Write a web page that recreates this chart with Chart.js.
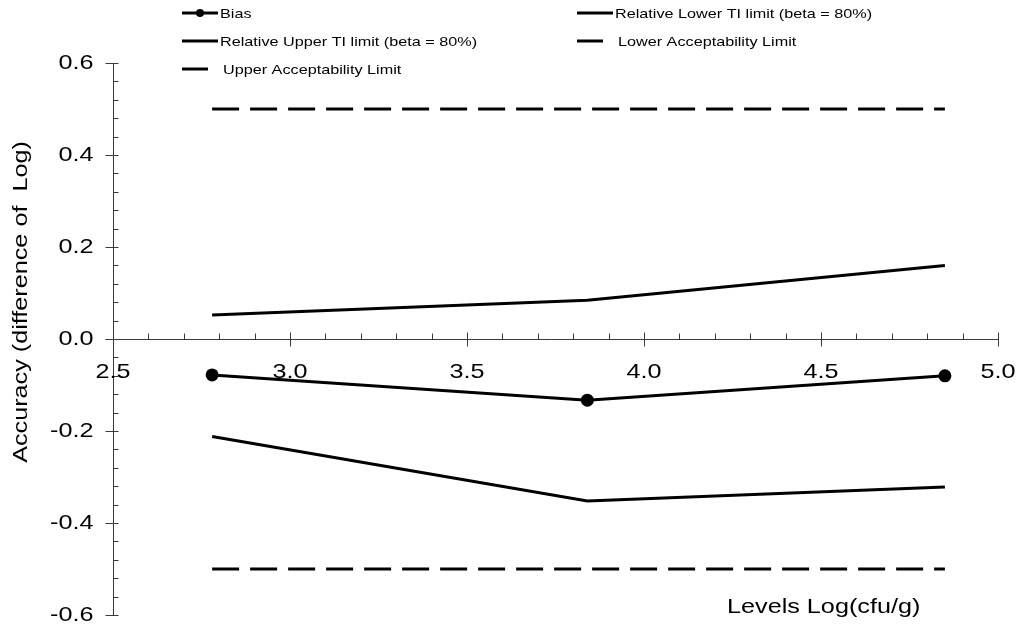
<!DOCTYPE html>
<html>
<head>
<meta charset="utf-8">
<script src="https://cdn.jsdelivr.net/npm/chart.js@4/dist/chart.umd.min.js"></script>
<style>
  html, body { margin: 0; padding: 0; background: #ffffff; }
  #wrap { width: 1021px; height: 633px; position: relative; }
</style>
</head>
<body>
<div id="wrap"><canvas id="c" width="1021" height="633"></canvas></div>
<script>
// Concentration levels (log cfu/g) and the accuracy profile series
const levels = [2.78, 3.84, 4.85];
const bias = [-0.078, -0.133, -0.080];
const lowerTI = [-0.212, -0.352, -0.322];
const upperTI = [0.052, 0.084, 0.160];
const lowerAccept = [-0.5, -0.5, -0.5];
const upperAccept = [0.5, 0.5, 0.5];

// Axis tick labels
const xTicks = ['2.5', '3.0', '3.5', '4.0', '4.5', '5.0'];
const yTicks = ['0.6', '0.4', '0.2', '0.0', '-0.2', '-0.4', '-0.6'];

const seriesNames = [
  'Bias',
  'Relative Lower TI limit (beta = 80%)',
  'Relative Upper TI limit (beta = 80%)',
  'Lower Acceptability Limit',
  'Upper Acceptability Limit'
];

const FONT = '"Liberation Sans", Arial, sans-serif';
const WIDE = 1.2; // horizontal stretch of the wide text face

function pts(ys) { return levels.map((x, i) => ({ x: x, y: ys[i] })); }

// Text with a slightly widened face, anchored at (x, y)
function wideText(ctx, text, x, y, align, rot) {
  ctx.save();
  ctx.translate(x, y);
  if (rot) ctx.rotate(rot);
  ctx.scale(WIDE, 1);
  ctx.textAlign = align;
  ctx.fillText(text, 0, 0);
  ctx.restore();
}

const solid = { borderColor: '#000', backgroundColor: '#000', borderWidth: 3, showLine: true, pointRadius: 0, pointHoverRadius: 0 };
const dashed = Object.assign({}, solid, { borderDash: [27, 11] });

const datasets = [
  Object.assign({}, solid, { label: seriesNames[0], data: pts(bias), pointRadius: 5, legendKind: 'marker' }),
  Object.assign({}, solid, { label: seriesNames[1], data: pts(lowerTI), legendKind: 'line' }),
  Object.assign({}, solid, { label: seriesNames[2], data: pts(upperTI), legendKind: 'line' }),
  Object.assign({}, dashed, { label: seriesNames[3], data: pts(lowerAccept), legendKind: 'dash' }),
  Object.assign({}, dashed, { label: seriesNames[4], data: pts(upperAccept), legendKind: 'dash' })
];

// Axes crossing at (2.5, 0) with major and minor ticks, drawn from the chart's scales
const crossAxes = {
  id: 'crossAxes',
  afterDraw(chart) {
    const ctx = chart.ctx;
    const xs = chart.scales.x, ys = chart.scales.y;
    const x0 = Math.round(xs.getPixelForValue(2.5)) + 0.5;
    const y0 = Math.round(ys.getPixelForValue(0)) + 0.5;
    ctx.save();
    ctx.strokeStyle = '#3a3a3a';
    ctx.lineWidth = 1;
    ctx.beginPath();
    // vertical axis
    ctx.moveTo(x0, ys.getPixelForValue(0.6));
    ctx.lineTo(x0, ys.getPixelForValue(-0.6));
    // horizontal axis
    ctx.moveTo(x0 - 8, y0);
    ctx.lineTo(xs.getPixelForValue(5.0), y0);
    // y ticks: majors every 0.2, minors every 0.04
    for (let k = -15; k <= 15; k++) {
      const v = k * 0.04;
      const py = Math.round(ys.getPixelForValue(v)) + 0.5;
      if (k % 5 === 0) { ctx.moveTo(x0 - 8, py); ctx.lineTo(x0 + 5, py); }
      else { ctx.moveTo(x0, py); ctx.lineTo(x0 + 5, py); }
    }
    // x ticks: majors every 0.5, minors every 0.1
    for (let k = 25; k <= 50; k++) {
      const v = k / 10;
      const px = Math.round(xs.getPixelForValue(v)) + 0.5;
      if (k % 5 === 0) { ctx.moveTo(px, y0 - 7); ctx.lineTo(px, y0 + 7); }
      else { ctx.moveTo(px, y0 - 6); ctx.lineTo(px, y0); }
    }
    ctx.stroke();

    // tick labels
    ctx.fillStyle = '#000';
    ctx.font = '21px ' + FONT;
    ctx.textBaseline = 'middle';
    yTicks.forEach(t => {
      wideText(ctx, t, x0 - 20, ys.getPixelForValue(parseFloat(t)), 'right');
    });
    xTicks.forEach(t => {
      wideText(ctx, t, xs.getPixelForValue(parseFloat(t)), y0 + 33, 'center');
    });

    // axis titles
    wideText(ctx, 'Levels Log(cfu/g)', 727, 607, 'left');
    wideText(ctx, 'Accuracy (difference of  Log)', 21, 302, 'center', -Math.PI / 2);
    ctx.restore();
  }
};

// Two-column legend at the top of the figure
const topLegend = {
  id: 'topLegend',
  afterDraw(chart) {
    const ctx = chart.ctx;
    const cols = [182, 577];
    const rows = [13, 41, 69];
    ctx.save();
    ctx.fillStyle = '#000';
    ctx.strokeStyle = '#000';
    ctx.font = '13.5px ' + FONT;
    ctx.textBaseline = 'middle';
    chart.data.datasets.forEach((ds, i) => {
      const x = cols[i % 2], y = rows[Math.floor(i / 2)];
      ctx.lineWidth = 3;
      ctx.setLineDash([]);
      ctx.beginPath();
      if (ds.legendKind === 'dash') { ctx.moveTo(x, y); ctx.lineTo(x + 26, y); }
      else { ctx.moveTo(x, y); ctx.lineTo(x + 36, y); }
      ctx.stroke();
      if (ds.legendKind === 'marker') {
        ctx.beginPath();
        ctx.arc(x + 18, y, 4, 0, Math.PI * 2);
        ctx.fill();
      }
      wideText(ctx, ds.label, ds.legendKind === 'dash' ? x + 41 : x + 38, y + 1, 'left');
    });
    ctx.restore();
  }
};

new Chart(document.getElementById('c'), {
  type: 'scatter',
  data: { datasets: datasets },
  options: {
    responsive: false,
    animation: false,
    layout: { padding: { left: 113, right: 23, top: 63, bottom: 18 } },
    plugins: { legend: { display: false }, tooltip: { enabled: false } },
    elements: { line: { tension: 0 } },
    scales: {
      x: { type: 'linear', min: 2.5, max: 5.0, display: false },
      y: { type: 'linear', min: -0.6, max: 0.6, display: false }
    }
  },
  plugins: [crossAxes, topLegend]
});
</script>
</body>
</html>
